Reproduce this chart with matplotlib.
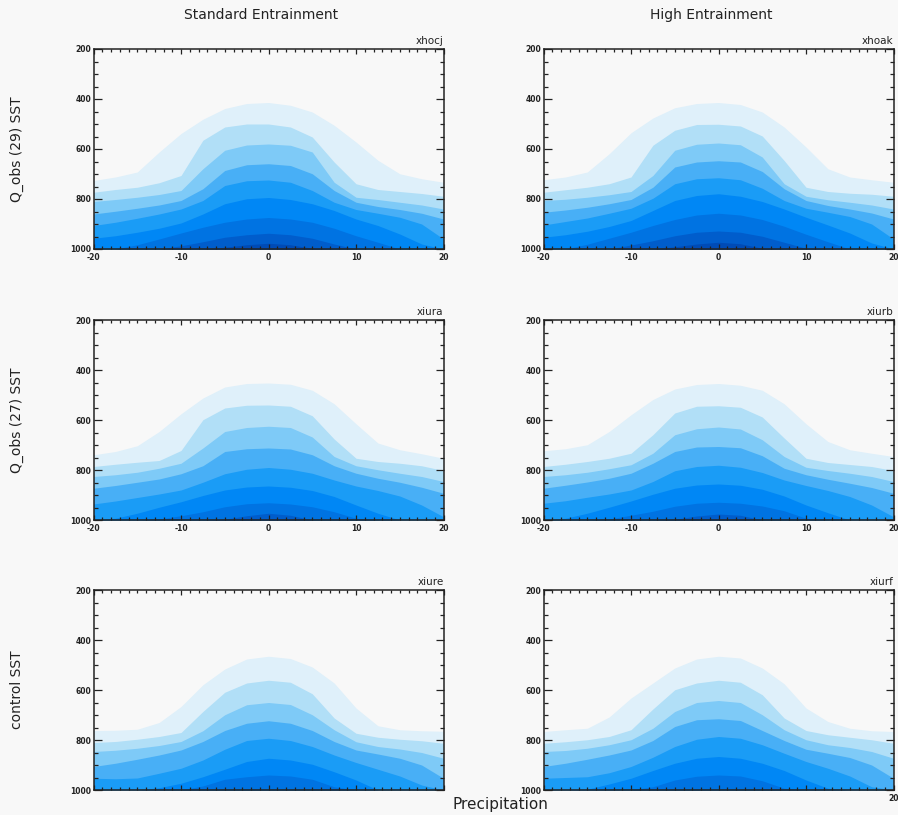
"""Six-panel shaded cross sections: standard vs high entrainment for three SST setups."""

import matplotlib
matplotlib.use("Agg")
import matplotlib.pyplot as plt
from matplotlib.ticker import MultipleLocator


BG = "#f8f8f8"
INK = "#222222"

X_POS = [-20, -17.5, -15, -12.5, -10, -7.5, -5, -2.5, 0, 2.5, 5, 7.5, 10, 12.5, 15, 17.5, 20]
LEVEL_COLORS = ["#dff0fa", "#b1dff7", "#7ecaf7", "#48aff6", "#1a9cf6",
                "#0087f5", "#0073e2", "#005dcc", "#004bb6"]

# upper edge (hPa) of each shaded level, one list per level, read at X_POS
XHOCJ = [
    [726, 712, 692, 612, 538, 481, 438, 418, 414, 425, 452, 505, 572, 645, 699, 719, 733],
    [773, 762, 753, 735, 706, 565, 512, 500, 500, 512, 552, 652, 739, 762, 770, 778, 789],
    [810, 802, 793, 782, 766, 679, 605, 584, 580, 585, 612, 733, 793, 802, 813, 824, 840],
    [860, 849, 837, 824, 806, 759, 686, 663, 659, 666, 699, 766, 813, 830, 842, 857, 880],
    [906, 893, 877, 860, 840, 806, 746, 727, 724, 733, 766, 813, 842, 857, 873, 900, 960],
    [957, 947, 933, 917, 896, 860, 819, 799, 794, 802, 819, 846, 880, 906, 940, 980, 1000],
    [1000, 1000, 983, 960, 936, 913, 893, 880, 874, 880, 893, 917, 947, 973, 1000, 1000, 1000],
    [1000, 1000, 1000, 1000, 987, 971, 953, 943, 937, 943, 957, 980, 1000, 1000, 1000, 1000, 1000],
    [1000, 1000, 1000, 1000, 1000, 1000, 993, 983, 977, 983, 997, 1000, 1000, 1000, 1000, 1000, 1000],
]
XHOAK = [
    [723, 712, 692, 619, 535, 476, 435, 418, 414, 422, 452, 512, 592, 679, 712, 723, 733],
    [773, 763, 753, 739, 712, 585, 525, 502, 501, 508, 548, 646, 753, 770, 777, 781, 789],
    [806, 801, 793, 783, 770, 706, 605, 581, 576, 583, 632, 739, 789, 803, 813, 824, 840],
    [853, 844, 833, 819, 802, 753, 672, 652, 647, 652, 690, 759, 806, 826, 840, 856, 880],
    [904, 890, 876, 857, 837, 797, 739, 719, 715, 723, 757, 806, 837, 853, 870, 900, 960],
    [953, 943, 929, 910, 886, 846, 806, 786, 779, 789, 810, 840, 873, 904, 936, 976, 1000],
    [1000, 1000, 981, 957, 933, 906, 882, 864, 857, 864, 882, 909, 941, 971, 1000, 1000, 1000],
    [1000, 1000, 1000, 1000, 984, 967, 947, 933, 928, 933, 949, 973, 997, 1000, 1000, 1000, 1000],
    [1000, 1000, 1000, 1000, 1000, 1000, 991, 980, 973, 979, 997, 1000, 1000, 1000, 1000, 1000, 1000],
]
XIURA = [
    [739, 726, 703, 646, 575, 512, 468, 454, 452, 457, 481, 535, 615, 692, 719, 735, 753],
    [786, 777, 769, 762, 722, 599, 552, 541, 540, 545, 583, 676, 753, 766, 773, 783, 802],
    [826, 819, 809, 793, 773, 712, 646, 630, 625, 630, 668, 746, 783, 799, 813, 826, 846],
    [873, 862, 849, 836, 815, 783, 726, 715, 712, 716, 739, 783, 813, 833, 849, 869, 893],
    [936, 924, 910, 896, 880, 849, 815, 797, 790, 797, 813, 840, 864, 882, 904, 940, 987],
    [1000, 993, 973, 949, 927, 902, 880, 868, 864, 869, 882, 906, 940, 973, 1000, 1000, 1000],
    [1000, 1000, 1000, 996, 983, 967, 947, 935, 931, 936, 947, 967, 993, 1000, 1000, 1000, 1000],
    [1000, 1000, 1000, 1000, 1000, 1000, 997, 983, 973, 981, 1000, 1000, 1000, 1000, 1000, 1000, 1000],
]
XIURB = [
    [723, 715, 699, 646, 579, 518, 476, 458, 454, 461, 481, 535, 615, 686, 719, 733, 746],
    [786, 777, 766, 753, 733, 659, 572, 545, 543, 549, 588, 672, 753, 770, 778, 786, 802],
    [826, 819, 809, 795, 779, 733, 659, 635, 628, 636, 679, 746, 789, 802, 813, 826, 846],
    [873, 861, 848, 833, 813, 773, 726, 708, 706, 711, 743, 793, 819, 837, 853, 870, 893],
    [933, 923, 909, 896, 880, 846, 803, 786, 781, 789, 810, 840, 862, 882, 906, 940, 987],
    [1000, 993, 973, 949, 924, 897, 873, 860, 856, 861, 877, 904, 940, 971, 1000, 1000, 1000],
    [1000, 1000, 1000, 996, 981, 965, 945, 933, 929, 933, 944, 963, 993, 1000, 1000, 1000, 1000],
    [1000, 1000, 1000, 1000, 1000, 1000, 997, 984, 976, 981, 1000, 1000, 1000, 1000, 1000, 1000, 1000],
]
XIURE = [
    [762, 761, 757, 730, 666, 579, 516, 476, 465, 474, 508, 572, 672, 743, 759, 763, 765],
    [810, 806, 797, 786, 770, 686, 609, 572, 561, 569, 615, 712, 773, 789, 797, 803, 813],
    [846, 841, 833, 822, 806, 763, 699, 659, 650, 658, 699, 759, 807, 826, 836, 850, 873],
    [906, 893, 877, 860, 840, 806, 762, 733, 723, 733, 762, 806, 840, 856, 873, 900, 953],
    [953, 955, 952, 933, 913, 880, 837, 802, 793, 802, 826, 860, 890, 917, 944, 980, 1000],
    [1000, 1000, 1000, 991, 973, 947, 917, 886, 873, 880, 897, 927, 960, 1000, 1000, 1000, 1000],
    [1000, 1000, 1000, 1000, 1000, 984, 957, 947, 940, 944, 957, 987, 1000, 1000, 1000, 1000, 1000],
]
XIURF = [
    [766, 759, 753, 708, 632, 572, 512, 476, 465, 472, 512, 575, 672, 726, 753, 763, 766],
    [813, 807, 799, 786, 759, 676, 599, 572, 561, 569, 619, 712, 762, 779, 789, 799, 813],
    [846, 842, 833, 819, 799, 753, 686, 650, 642, 650, 699, 759, 799, 819, 830, 846, 873],
    [906, 893, 877, 860, 840, 802, 746, 719, 715, 722, 762, 802, 837, 853, 870, 900, 953],
    [953, 950, 947, 931, 906, 869, 826, 797, 786, 793, 819, 853, 886, 913, 944, 987, 1000],
    [1000, 1000, 997, 976, 953, 922, 893, 873, 866, 873, 893, 922, 960, 993, 1000, 1000, 1000],
    [1000, 1000, 1000, 1000, 1000, 987, 960, 945, 940, 944, 963, 993, 1000, 1000, 1000, 1000, 1000],
]

COL_TITLES = ["Standard Entrainment", "High Entrainment"]
ROW_TITLES = ["Q_obs (29) SST", "Q_obs (27) SST", "control SST"]
RUN_IDS = [["xhocj", "xhoak"], ["xiura", "xiurb"], ["xiure", "xiurf"]]
PANELS = [[XHOCJ, XHOAK], [XIURA, XIURB], [XIURE, XIURF]]
X_TICKS = [-20, -10, 0, 10, 20]
Y_TICKS = [200, 400, 600, 800, 1000]

W, H = 898, 815
COL_LEFT = [93.5, 543.5]
ROW_TOP = [49, 320, 590]
AX_W, AX_H = 350, 200


def draw_panel(ax, bounds, run_id, xlabels):
    ax.set_facecolor(BG)
    for bound, color in zip(bounds, LEVEL_COLORS):
        ax.fill_between(X_POS, bound, 1000, color=color, lw=0)
    ax.set_xlim(-20, 20)
    ax.set_ylim(1000, 200)
    ax.set_xticks(X_TICKS)
    ax.set_xticklabels(xlabels)
    ax.set_yticks(Y_TICKS)
    ax.set_yticklabels([str(v) for v in Y_TICKS])
    ax.xaxis.set_minor_locator(MultipleLocator(1))
    ax.yaxis.set_minor_locator(MultipleLocator(50))
    ax.tick_params(axis="both", which="both", direction="in", top=True, right=True,
                   colors=INK, width=0.9, labelsize=5.5)
    ax.tick_params(axis="x", which="major", length=3.4, pad=3)
    ax.tick_params(axis="x", which="minor", length=2.0)
    ax.tick_params(axis="y", which="major", length=6.0, pad=1.5)
    ax.tick_params(axis="y", which="minor", length=3.0)
    for lab in ax.get_xticklabels() + ax.get_yticklabels():
        lab.set_fontweight("bold")
    for sp in ax.spines.values():
        sp.set_color(INK)
        sp.set_linewidth(1.1)
    ax.text(1.0, 1.015, run_id, transform=ax.transAxes, ha="right", va="bottom",
            fontsize=7.5, color=INK)


fig = plt.figure(figsize=(W / 100, H / 100), dpi=100, facecolor=BG)

for r in range(3):
    for c in range(2):
        rect = [COL_LEFT[c] / W, 1 - (ROW_TOP[r] + AX_H) / H, AX_W / W, AX_H / H]
        ax = fig.add_axes(rect)
        if r < 2:
            xlabels = [str(v) for v in X_TICKS]
        elif c == 1:
            xlabels = ["", "", "", "", "20"]
        else:
            xlabels = [""] * 5
        draw_panel(ax, PANELS[r][c], RUN_IDS[r][c], xlabels)

for c, title in enumerate(COL_TITLES):
    fig.text((COL_LEFT[c] + AX_W / 2 - 7) / W, 1 - 15 / H, title, ha="center", va="center",
             fontsize=10, color=INK)

for r, title in enumerate(ROW_TITLES):
    fig.text(17 / W, 1 - (ROW_TOP[r] + AX_H / 2) / H, title, rotation=90,
             ha="center", va="center", fontsize=10, color=INK)

fig.text(500 / W, 1 - 804 / H, "Precipitation", ha="center", va="center",
         fontsize=11, color=INK)

fig.savefig("out.png", dpi=100, facecolor=BG)
